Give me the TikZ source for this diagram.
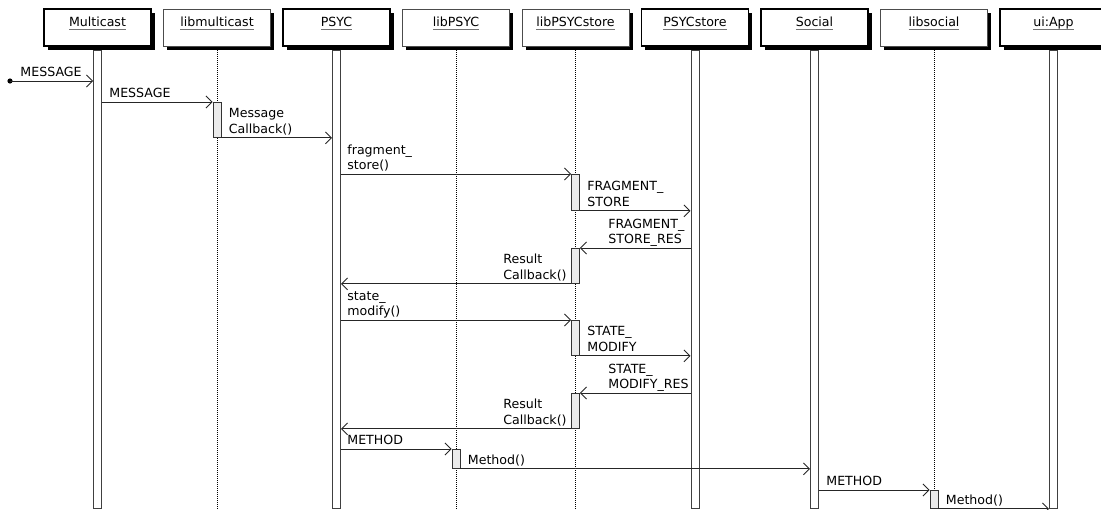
\documentclass[tikz,border=0pt]{standalone}
\usepackage{fontspec}
\setmainfont{DejaVu Sans}
\usetikzlibrary{arrows.meta, shadows, positioning, math}

% object name with a grey underline at a fixed depth
\newcommand\objname[1]{\setbox0\hbox{#1}\rlap{\color{black!55}\rule[-3pt]{\wd0}{0.9pt}}\box0}

\tikzset{
  msg/.style={-{Straight Barb[length=6pt,width=12pt]}, line width=0.9pt, black!85},
  hdbox/.style={rectangle, minimum width=107pt, inner sep=0pt, text height=17.7pt, text depth=19.3pt,
    fill=white, anchor=base, font=\fontsize{12.6}{15.5}\selectfont,
    drop shadow={shadow xshift=3.5pt, shadow yshift=-3.5pt, fill=black, opacity=1}},
  acthd/.style={hdbox, draw=black, line width=1.8pt},
  libhd/.style={hdbox, draw=black!70, line width=0.9pt},
  actbar/.style={rectangle, draw=black!75, fill=white, line width=0.9pt, minimum width=8pt,
    minimum height=458pt, inner sep=0pt, anchor=north},
  libline/.style={line width=0.9pt, dash pattern=on 1pt off 1pt},
  exec/.style={rectangle, draw=black!80, fill=black!8, line width=0.9pt, minimum width=8pt,
    inner sep=0pt, anchor=north},
  lbl/.style={inner sep=0pt, align=left, text depth=3pt, black, font=\fontsize{12.6}{15.5}\selectfont},
}

\begin{document}
\begin{tikzpicture}[x=1pt, y=-1pt]

\tikzmath{
\xo = 97.5;  % first lifeline
\dx = 119.5; % lifeline spacing
\ytop = 50;
}

\clip (0,0) rectangle (1101,509);

%objects
\foreach \nm/\txt/\kind [count=\i from 0] in {mc/Multicast/act, libmc/libmulticast/lib,
    psyc/PSYC/act, libpsyc/libPSYC/lib, libstore/libPSYCstore/lib, store/PSYCstore/act,
    social/Social/act, libsocial/libsocial/lib, app/ui:App/act}{
  \node[\kind hd] (\nm) at (\xo+\dx*\i, 26.7) {\objname{\txt}};
}

%lifelines
\foreach \nm in {mc, psyc, store, social, app}
  \node[actbar] (\nm bar) at (\nm.south |- 0,\ytop) {};
\foreach \nm in {libmc, libpsyc, libstore, libsocial}
  \draw[libline] (\nm.south |- 0,\ytop) -- (\nm.south |- 0,509);

%activations
\node[exec, minimum height=35pt] (ex1) at (libmc.south |- 0,102) {};
\node[exec, minimum height=36pt] (ex2) at (libstore.south |- 0,174) {};
\node[exec, minimum height=35pt] (ex3) at (libstore.south |- 0,248) {};
\node[exec, minimum height=35pt] (ex4) at (libstore.south |- 0,320) {};
\node[exec, minimum height=35pt] (ex5) at (libstore.south |- 0,393) {};
\node[exec, minimum height=19pt] (ex6) at (libpsyc.south |- 0,449) {};
\node[exec, minimum height=18pt] (ex7) at (libsocial.south |- 0,490) {};

%messages
\coordinate (found) at (10,81);
\fill (found) circle (2.6pt);
\draw[msg] (found) -- (found -| mcbar.west)
  node[pos=0, lbl, anchor=south west, xshift=10pt, yshift=1pt] (l1) {MESSAGE};
\draw[msg] (ex1.north west -| mcbar.east) -- (ex1.north west)
  node[pos=0, lbl, anchor=south west, xshift=7pt, yshift=1pt] (l2) {MESSAGE};
\draw[msg] (ex1.south east) -- (ex1.south east -| psycbar.west)
  node[pos=0, lbl, anchor=south west, xshift=7pt, yshift=1pt] (l3) {Message\\Callback()};

\draw[msg] (ex2.north west -| psycbar.east) -- (ex2.north west)
  node[pos=0, lbl, anchor=south west, xshift=6pt, yshift=1pt] (l4) {fragment\_\\store()};
\draw[msg] (ex2.south east) -- (ex2.south east -| storebar.west)
  node[pos=0, lbl, anchor=south west, xshift=7pt, yshift=1pt] (l5) {FRAGMENT\_\\STORE};
\draw[msg] (ex3.north east -| storebar.west) -- (ex3.north east)
  node[pos=1, lbl, anchor=south west, xshift=28pt, yshift=1pt] (l6) {FRAGMENT\_\\STORE\_RES};
\draw[msg] (ex3.south west) -- (ex3.south west -| psycbar.east)
  node[pos=0, lbl, anchor=south east, xshift=-4pt, yshift=1pt] (l7) {Result\\Callback()};

\draw[msg] (ex4.north west -| psycbar.east) -- (ex4.north west)
  node[pos=0, lbl, anchor=south west, xshift=6pt, yshift=1pt] (l8) {state\_\\modify()};
\draw[msg] (ex4.south east) -- (ex4.south east -| storebar.west)
  node[pos=0, lbl, anchor=south west, xshift=7pt, yshift=1pt] (l9) {STATE\_\\MODIFY};
\draw[msg] (ex5.north east -| storebar.west) -- (ex5.north east)
  node[pos=1, lbl, anchor=south west, xshift=28pt, yshift=1pt] (l10) {STATE\_\\MODIFY\_RES};
\draw[msg] (ex5.south west) -- (ex5.south west -| psycbar.east)
  node[pos=0, lbl, anchor=south east, xshift=-4pt, yshift=1pt] (l11) {Result\\Callback()};

\draw[msg] (ex6.north west -| psycbar.east) -- (ex6.north west)
  node[pos=0, lbl, anchor=south west, xshift=6pt, yshift=1pt] (l12) {METHOD};
\draw[msg] (ex6.south east) -- (ex6.south east -| socialbar.west)
  node[pos=0, lbl, anchor=south west, xshift=7pt, yshift=1pt] (l13) {Method()};
\draw[msg] (ex7.north west -| socialbar.east) -- (ex7.north west)
  node[pos=0, lbl, anchor=south west, xshift=7pt, yshift=1pt] (l14) {METHOD};
\draw[msg] (ex7.south east) -- (ex7.south east -| appbar.west)
  node[pos=0, lbl, anchor=south west, xshift=7pt, yshift=1pt] (l15) {Method()};

\end{tikzpicture}
\end{document}
